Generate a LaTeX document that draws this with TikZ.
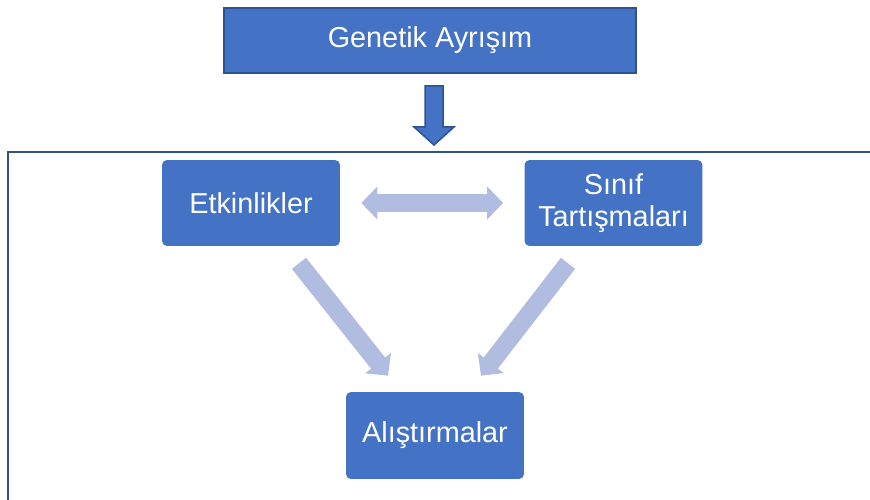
\documentclass[tikz,border=0pt]{standalone}
\usepackage{fontspec}
\setmainfont{Liberation Sans}
\usepackage{xcolor}
\usetikzlibrary{arrows.meta,calc}

\definecolor{boxblue}{HTML}{4472C4}
\definecolor{edgeblue}{HTML}{2F528F}
\definecolor{paleblue}{HTML}{B0BDE0}

\tikzset{
    bigtri/.tip={Triangle[width=6.4mm,length=3.2mm]},
    bluebox/.style={fill=boxblue, text=white, minimum width=3.56cm, minimum height=1.72cm,
        rounded corners=1mm, align=center, inner sep=0pt, font=\fontsize{16.4}{18.4}\selectfont},
    palearrow/.style={paleblue, line width=3.6mm, -bigtri},
}

\begin{document}
\begin{tikzpicture}[x=0.02cm, y=-0.02cm]
    \useasboundingbox (0,0) rectangle (870,500);

    \node[bluebox, rounded corners=0pt, draw=edgeblue, line width=0.4mm,
        minimum width=8.24cm, minimum height=1.3cm] (genetik) at (430,40.5) {Genetik Ayrışım};
    \node[bluebox] (etkinlik) at (251,203) {Etkinlikler};
    \node[bluebox] (sinif) at (613.5,203) {Sınıf\\Tartışmaları};
    \node[bluebox, minimum height=1.74cm] (alistirma) at (435,435.5) {Alıştırmalar};

    % down arrow into the frame
    \coordinate (dn) at ($(genetik.south)+(4,12)$);
    \draw[edgeblue, fill=boxblue, line width=0.3mm] (dn) ++(-9,0) -- ++(18,0) -- ++(0,41)
        -- ++(11,0) -- ++(-20,18) -- ++(-20,-18) -- ++(11,0) -- cycle;

    % frame
    \draw[edgeblue, line width=0.5mm] (8,505) to (8,152) to (875,152);

    \draw[palearrow, bigtri-bigtri, shorten <=4.2mm, shorten >=4.2mm] (etkinlik.east) -- (sinif.west);
    \draw[palearrow] ($(etkinlik.south)+(48,17)$) -- ($(alistirma.north)+(-47,-16)$);
    \draw[palearrow] ($(sinif.south)+(-45.5,17)$) -- ($(alistirma.north)+(46,-16)$);
\end{tikzpicture}
\end{document}
